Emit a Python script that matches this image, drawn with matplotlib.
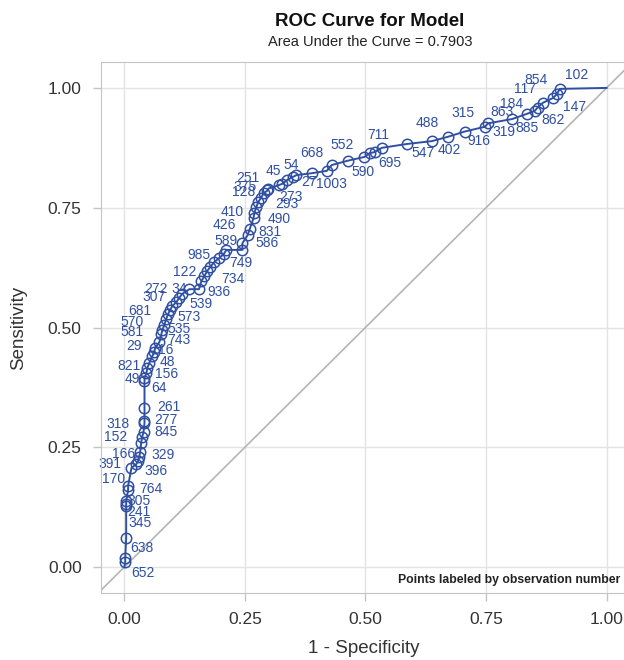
import matplotlib
matplotlib.use('Agg')
import matplotlib.pyplot as plt

plt.rcParams['font.family'] = ['Liberation Sans', 'DejaVu Sans']

# ROC points (1 - specificity, sensitivity)
fpr = [0.000, 0.002, 0.002, 0.004, 0.004, 0.004, 0.004, 0.008, 0.008, 0.015,
       0.025, 0.029, 0.031, 0.033, 0.035, 0.037, 0.040, 0.042, 0.042, 0.042,
       0.042, 0.042, 0.046, 0.048, 0.052, 0.058, 0.062, 0.064, 0.073, 0.077,
       0.079, 0.083, 0.087, 0.091, 0.095, 0.100, 0.108, 0.114, 0.120, 0.135,
       0.155, 0.160, 0.166, 0.172, 0.178, 0.187, 0.197, 0.206, 0.212, 0.245,
       0.245, 0.256, 0.260, 0.268, 0.270, 0.274, 0.278, 0.283, 0.289, 0.297,
       0.299, 0.320, 0.328, 0.338, 0.349, 0.357, 0.389, 0.420, 0.430, 0.463,
       0.498, 0.509, 0.519, 0.534, 0.586, 0.638, 0.671, 0.706, 0.748, 0.754,
       0.804, 0.835, 0.851, 0.857, 0.868, 0.889, 0.897, 0.903, 1.000]
tpr = [0.000, 0.010, 0.019, 0.060, 0.128, 0.132, 0.137, 0.161, 0.170, 0.207,
       0.215, 0.222, 0.230, 0.240, 0.259, 0.271, 0.282, 0.301, 0.305, 0.332,
       0.388, 0.395, 0.405, 0.416, 0.426, 0.440, 0.448, 0.457, 0.470, 0.486,
       0.495, 0.505, 0.518, 0.528, 0.537, 0.545, 0.553, 0.562, 0.570, 0.580,
       0.580, 0.597, 0.607, 0.618, 0.626, 0.637, 0.645, 0.653, 0.662, 0.662,
       0.676, 0.693, 0.705, 0.728, 0.740, 0.752, 0.762, 0.770, 0.780, 0.786,
       0.790, 0.797, 0.800, 0.808, 0.814, 0.818, 0.822, 0.827, 0.839, 0.848,
       0.856, 0.864, 0.866, 0.875, 0.883, 0.889, 0.898, 0.909, 0.919, 0.926,
       0.935, 0.946, 0.952, 0.959, 0.969, 0.979, 0.987, 0.998, 1.000]
obs = ['', '652', '', '638', '345', '241', '305', '764', '', '170',
       '396', '391', '166', '329', '', '152', '845', '318', '277', '261',
       '64', '49', '156', '821', '48', '', '16', '29', '743', '581',
       '535', '570', '573', '681', '', '539', '307', '', '272', '34',
       '936', '', '122', '', '734', '', '', '985', '749', '',
       '589', '586', '831', '426', '490', '410', '', '293', '128', '273',
       '375', '251', '', '45', '54', '27', '1003', '', '668', '552',
       '590', '', '711', '695', '547', '402', '488', '315', '916', '319',
       '863', '184', '885', '862', '117', '147', '854', '102', '']

# label offsets from the point, in pixels
offsets = {
    '652': (18, -11), '638': (16, -10), '345': (14, -17), '241': (13, -8),
    '305': (13, 0), '764': (23, 1), '170': (-18, -11), '396': (20, -7),
    '391': (-28, -3), '166': (-16, 3), '329': (23, -3), '152': (-26, 0),
    '845': (22, 0), '318': (-27, -1), '277': (21, 1), '261': (24, 1),
    '64': (15, -7), '49': (-12, -1), '156': (20, -1), '821': (-18, 2),
    '48': (18, 1), '16': (12, 2), '29': (-21, 2), '743': (19, 2),
    '581': (-29, 2), '535': (17, 1), '570': (-32, 3), '573': (23, 2),
    '681': (-28, 3), '539': (29, 2), '307': (-22, 5), '272': (-26, 5),
    '34': (-10, 0), '936': (20, -3), '122': (-20, 4), '734': (23, -12),
    '985': (-25, -1), '749': (14, -13), '589': (-16, 2), '586': (19, -8),
    '831': (20, -3), '426': (-29, -7), '490': (25, -6), '410': (-24, -5),
    '293': (26, -6), '128': (-20, 1), '273': (23, -7), '375': (-23, 2),
    '251': (-31, 7), '45': (-14, 9), '54': (-1, 12), '27': (13, -7),
    '1003': (20, -11), '668': (-20, 12), '552': (-5, 16), '590': (-1, -15),
    '711': (4, 17), '695': (8, -15), '547': (16, -9), '402': (17, -9),
    '488': (-21, 14), '315': (-2, 19), '916': (-6, -14), '319': (16, -9),
    '863': (-10, 7), '184': (-15, 10), '885': (-8, -17), '862': (15, -12),
    '117': (-18, 14), '147': (22, -9), '854': (-21, 14), '102': (17, 14),
}

blue = '#2F4FA2'
grid_c = '#e3e3e3'
frame_c = '#c4c4c4'
txt_c = '#333333'

fig = plt.figure(figsize=(6.24, 6.60), dpi=100)
ax = fig.add_axes([0.162, 0.1015, 0.841, 0.8045])

ax.set_xlim(-0.048, 1.04)
ax.set_ylim(-0.054, 1.054)

ticks = [0.0, 0.25, 0.5, 0.75, 1.0]
ax.set_xticks(ticks)
ax.set_yticks(ticks)
ax.set_xticklabels(['0.00', '0.25', '0.50', '0.75', '1.00'])
ax.set_yticklabels(['0.00', '0.25', '0.50', '0.75', '1.00'])
ax.grid(True, color=grid_c, lw=1)
ax.set_axisbelow(True)
for s in ax.spines.values():
    s.set_color(frame_c)
ax.tick_params(colors=frame_c, labelcolor=txt_c, labelsize=12.5, length=6, width=1, pad=8)

ax.axline((0, 0), (1, 1), color='#b5b5b5', lw=1.2, zorder=1)

ax.plot(fpr, tpr, color=blue, lw=1.4, zorder=3)
ax.plot(fpr[1:-1], tpr[1:-1], 'o', ms=7.5, mfc='none', mec=blue, mew=1.1, zorder=4)

for x, y, lab in zip(fpr, tpr, obs):
    if lab:
        dx, dy = offsets[lab]
        ax.annotate(lab, (x, y), xytext=(dx, dy), textcoords='offset pixels',
                    ha='center', va='center', color=blue, fontsize=10, zorder=2)

ax.text(0.99, 0.014, 'Points labeled by observation number', transform=ax.transAxes,
        ha='right', va='bottom', fontsize=8.8, fontweight='bold', color='#222222')

ax.set_xlabel('1 - Specificity', fontsize=13.5, color=txt_c, labelpad=9)
ax.set_ylabel('Sensitivity', fontsize=13.5, color=txt_c, labelpad=15)

fig.text(0.593, 0.968, 'ROC Curve for Model', ha='center', va='center',
         fontsize=13.5, fontweight='bold', color='#111111')
fig.text(0.593, 0.937, 'Area Under the Curve = 0.7903', ha='center', va='center',
         fontsize=10.5, color='#222222')

fig.savefig('out.png', dpi=100)
